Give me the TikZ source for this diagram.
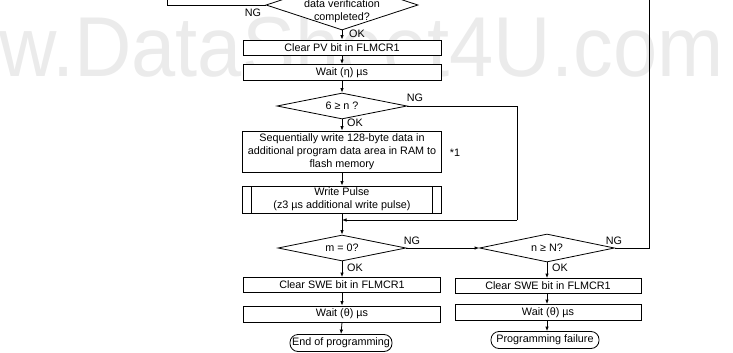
\documentclass[tikz,border=0pt]{standalone}
\usepackage{fontspec}
\setmainfont{Liberation Sans}
\usetikzlibrary{arrows.meta,shapes.geometric}

\tikzset{
  box/.style={draw, fill=white, line width=0.8pt, minimum height=15pt, inner sep=0pt, align=center},
  subproc/.style={box, path picture={
      \draw[line width=0.8pt] ([xshift=9pt]path picture bounding box.north west) -- ([xshift=9pt]path picture bounding box.south west);
      \draw[line width=0.8pt] ([xshift=-9pt]path picture bounding box.north east) -- ([xshift=-9pt]path picture bounding box.south east);}},
  decision/.style={draw, fill=white, diamond, aspect=5, line width=0.8pt, inner sep=0pt},
  term/.style={draw, fill=white, rounded corners=8pt, line width=0.8pt, minimum height=17pt, inner sep=1pt},
  wire/.style={line width=0.8pt},
  flow/.style={wire, -{Latex[length=4.5pt,width=3.5pt]}}
}

\begin{document}
\begin{tikzpicture}[x=1pt,y=-1pt,every node/.style={font=\fontsize{10.8}{13}\selectfont}]
  \useasboundingbox (0,0) rectangle (733,353);
  \clip (0,0) rectangle (733,353);
  % watermark behind everything
  \node[font=\fontsize{85}{85}\selectfont, text=gray!16, anchor=base west, inner sep=0pt, xscale=0.935] (wmark) at (-1,77) {w.DataSheet4U.com};
  % verification check, top cut off
  \node[decision, minimum width=152pt, minimum height=50pt] (verify) at (342,5) {};
  \node[align=center, inner sep=0pt] (verifytxt) at (342,11.5) {data verification\\completed?};
  \coordinate (ngtop) at (167,-10);
  \draw[wire] (verify.west) -| (ngtop);
  \node (ng1) at (253,13) {NG};
  \node (ok1) at (357,34) {OK};
  % clear PV, wait, 6 >= n
  \node[box, minimum width=198pt] (clrpv) at (342,47.5) {Clear PV bit in FLMCR1};
  \node[box, minimum width=198pt, minimum height=16pt] (waiteta) at (342,72.5) {Wait (η) µs};
  \node[decision, minimum width=130pt, minimum height=26pt] (chkn) at (342,106) {6 ≥ n ?};
  \node (ng2) at (415,98) {NG};
  \node (ok2) at (355,123) {OK};
  % additional write
  \node[box, minimum width=199pt, minimum height=41pt] (seqw) at (342,151.5) {Sequentially write 128-byte data in\\additional program data area in RAM to\\flash memory};
  \node (star1) at (455,153) {*1};
  \node[subproc, minimum width=199pt, minimum height=27pt] (pulse) at (342,199.5) {Write Pulse\\(z3 µs additional write pulse)};
  \coordinate (jn) at (342,220);
  \coordinate (rloop) at (517,220);
  % m = 0 and n >= N
  \node[decision, minimum width=128pt, minimum height=26pt] (mzero) at (342,248) {m = 0?};
  \node (ng3) at (412,241) {NG};
  \node[decision, minimum width=135pt, minimum height=28pt] (chkN) at (547,248) {n ≥ N?};
  \node (ng4) at (614,241) {NG};
  \coordinate (ngtop2) at (649,-10);
  \node (ok3) at (355,268) {OK};
  \node (ok4) at (560,268) {OK};
  % left exit
  \node[box, minimum width=197pt] (clrswe1) at (342,285) {Clear SWE bit in FLMCR1};
  \node[box, minimum width=197pt, minimum height=16pt] (waitth1) at (342,314) {Wait (θ) µs};
  \node[term, minimum width=102pt] (endprog) at (341,343) {End of programming};
  % right exit
  \node[box, minimum width=186pt] (clrswe2) at (548,286) {Clear SWE bit in FLMCR1};
  \node[box, minimum width=186pt, minimum height=16pt] (waitth2) at (548,312.5) {Wait (θ) µs};
  \node[term, minimum width=108pt] (fail) at (545,340) {Programming failure};
  % connectors
  \draw[flow] (verify.south) -- (clrpv.north);
  \draw[flow] (clrpv.south) -- (waiteta.north);
  \draw[flow] (waiteta.south) -- (chkn.north);
  \draw[flow] (chkn.south) -- (seqw.north);
  \draw[flow] (seqw.south) -- (pulse.north);
  \draw[flow] (pulse.south) -- (mzero.north);
  \draw[wire] (chkn.east) -| (rloop);
  \draw[flow] (rloop) -- (jn);
  \draw[flow] (mzero.east) -- (chkN.west);
  \draw[wire] (chkN.east) -| (ngtop2);
  \draw[flow] (mzero.south) -- (clrswe1.north);
  \draw[flow] (clrswe1.south) -- (waitth1.north);
  \draw[flow] (waitth1.south) -- (endprog.north);
  \draw[flow] (chkN.south) -- (chkN.south |- clrswe2.north);
  \draw[flow] (chkN.south |- clrswe2.south) -- (chkN.south |- waitth2.north);
  \draw[flow] (chkN.south |- waitth2.south) -- (chkN.south |- fail.north);
\end{tikzpicture}
\end{document}
